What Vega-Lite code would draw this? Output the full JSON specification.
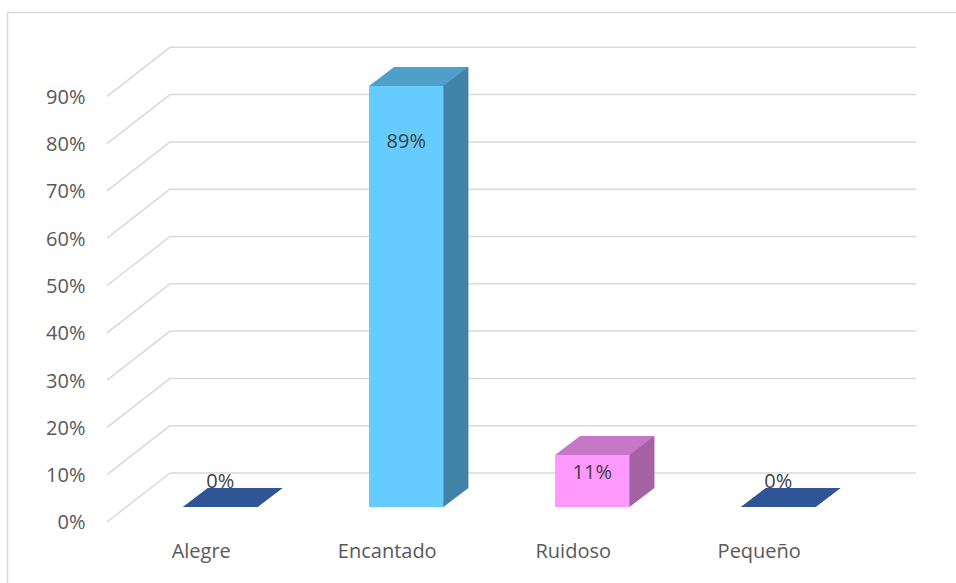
{
  "$schema": "https://vega.github.io/schema/vega-lite/v6.json",
  "width": 949,
  "height": 571,
  "padding": {"left": 7, "top": 12, "right": 0, "bottom": 0},
  "autosize": {"type": "none"},
  "background": "white",
  "config": {"view": {"stroke": null}, "font": "Open Sans", "axis": {"labelFont": "Open Sans"}},
  "datasets": {
    "bars": [
      {"cat": "Alegre", "value": 0},
      {"cat": "Encantado", "value": 0.89},
      {"cat": "Ruidoso", "value": 0.11},
      {"cat": "Pequeño", "value": 0}
    ],
    "grid": [
      {"t": 0}, {"t": 0.1}, {"t": 0.2}, {"t": 0.3}, {"t": 0.4},
      {"t": 0.5}, {"t": 0.6}, {"t": 0.7}, {"t": 0.8}, {"t": 0.9}
    ]
  },
  "resolve": {"axis": {"x": "independent", "y": "independent"}, "scale": {"color": "independent"}},
  "layer": [
    {
      "data": {"name": "grid"},
      "mark": {"type": "rule", "color": "#D9D9D9", "strokeWidth": 1.5, "yOffset": -34},
      "encoding": {
        "y": {"field": "t", "type": "quantitative",
          "scale": {"domain": [-0.1607, 1.0465], "zero": false, "nice": false},
          "axis": {"orient": "left", "offset": -78, "values": [0, 0.1, 0.2, 0.3, 0.4, 0.5, 0.6, 0.7, 0.8, 0.9], "format": ".0%", "domain": false, "ticks": false, "tickSize": 0, "grid": false, "labelPadding": 0, "labelOffset": 16, "labelFontSize": 20, "labelColor": "#595959", "title": null}},
        "x": {"datum": "Alegre", "type": "nominal", "bandPosition": -0.1747,
          "scale": {"type": "band", "domain": ["Alegre", "Encantado", "Ruidoso", "Pequeño"], "paddingInner": 0.6, "paddingOuter": 0.851, "align": 0.556},
          "axis": null},
        "x2": {"datum": "Pequeño", "bandPosition": 2.352}
      }
    },
    {
      "data": {"name": "grid"},
      "mark": {"type": "point", "shape": "M-1,0.7778L1,-0.7778", "size": 3969, "filled": false, "color": "#D9D9D9", "strokeWidth": 1.5, "opacity": 1, "yOffset": -9.5},
      "encoding": {
        "y": {"field": "t", "type": "quantitative", "axis": null},
        "x": {"datum": "Alegre", "type": "nominal", "bandPosition": -0.598, "axis": null}
      }
    },
    {
      "data": {"name": "bars"},
      "mark": {"type": "bar", "xOffset": 25, "yOffset": -19, "y2Offset": -19},
      "encoding": {
        "x": {"field": "cat", "type": "nominal", "axis": null},
        "y": {"field": "value", "type": "quantitative", "axis": null},
        "y2": {"datum": 0},
        "color": {"field": "cat", "type": "nominal", "legend": null,
          "scale": {"domain": ["Alegre", "Encantado", "Ruidoso", "Pequeño"], "range": ["#2F5597", "#4083A6", "#A462A4", "#2F5597"]}}
      }
    },
    {
      "data": {"name": "bars"},
      "mark": {"type": "point", "shape": "M-0.994,0.19L0.494,0.19L0.994,-0.19L-0.494,-0.19Z", "size": 10000, "filled": true, "opacity": 1, "strokeWidth": 0, "xOffset": 12.5, "yOffset": -9.5},
      "encoding": {
        "x": {"field": "cat", "type": "nominal", "axis": null},
        "y": {"datum": 0, "type": "quantitative", "axis": null},
        "color": {"field": "cat", "type": "nominal", "legend": null,
          "scale": {"domain": ["Alegre", "Encantado", "Ruidoso", "Pequeño"], "range": ["#2F5597", "#4083A6", "#A462A4", "#2F5597"]}}
      }
    },
    {
      "data": {"name": "bars"},
      "mark": {"type": "bar"},
      "encoding": {
        "x": {"field": "cat", "type": "nominal",
          "axis": {"orient": "bottom", "offset": -42, "labelOffset": -19, "labelPadding": 0, "ticks": false, "tickSize": 0, "domain": false, "grid": false, "labelAngle": 0, "labelFontSize": 20, "labelColor": "#595959", "title": null}},
        "y": {"field": "value", "type": "quantitative",
          "axis": {"orient": "left", "offset": 0, "domain": true, "domainColor": "#D9D9D9", "domainWidth": 1.5, "labels": false, "ticks": false, "grid": false, "title": null}},
        "y2": {"datum": 0},
        "color": {"field": "cat", "type": "nominal", "legend": null,
          "scale": {"domain": ["Alegre", "Encantado", "Ruidoso", "Pequeño"], "range": ["#2F5597", "#66CCFF", "#FF99FF", "#2F5597"]}}
      }
    },
    {
      "data": {"name": "bars"},
      "mark": {"type": "point", "shape": "M-0.994,0.19L0.494,0.19L0.994,-0.19L-0.494,-0.19Z", "size": 10000, "filled": true, "opacity": 1, "strokeWidth": 0, "xOffset": 12.5, "yOffset": -9.5},
      "encoding": {
        "x": {"field": "cat", "type": "nominal",
          "axis": {"orient": "top", "domain": true, "domainColor": "#D9D9D9", "domainWidth": 1.5, "labels": false, "ticks": false, "grid": false, "title": null}},
        "y": {"field": "value", "type": "quantitative", "axis": null},
        "color": {"field": "cat", "type": "nominal", "legend": null,
          "scale": {"domain": ["Alegre", "Encantado", "Ruidoso", "Pequeño"], "range": ["#2F5597", "#4FA0C8", "#C777C7", "#2F5597"]}}
      }
    },
    {
      "data": {"name": "bars"},
      "transform": [{"filter": "datum.value >= 0.5"}],
      "mark": {"type": "text", "dy": 56, "fontSize": 20, "color": "#404040", "font": "Open Sans", "baseline": "middle"},
      "encoding": {
        "x": {"field": "cat", "type": "nominal", "axis": null},
        "y": {"field": "value", "type": "quantitative", "axis": null},
        "text": {"field": "value", "type": "quantitative", "format": ".0%"}
      }
    },
    {
      "data": {"name": "bars"},
      "transform": [{"filter": "datum.value > 0 && datum.value < 0.5"}],
      "mark": {"type": "text", "dy": 18, "fontSize": 20, "color": "#404040", "font": "Open Sans", "baseline": "middle"},
      "encoding": {
        "x": {"field": "cat", "type": "nominal", "axis": null},
        "y": {"field": "value", "type": "quantitative", "axis": null},
        "text": {"field": "value", "type": "quantitative", "format": ".0%"}
      }
    },
    {
      "data": {"name": "bars"},
      "transform": [{"filter": "datum.value == 0"}],
      "mark": {"type": "text", "dy": -25, "fontSize": 20, "color": "#404040", "font": "Open Sans", "baseline": "middle"},
      "encoding": {
        "x": {"field": "cat", "type": "nominal", "axis": null},
        "y": {"field": "value", "type": "quantitative", "axis": null},
        "text": {"field": "value", "type": "quantitative", "format": ".0%"}
      }
    }
  ]
}
